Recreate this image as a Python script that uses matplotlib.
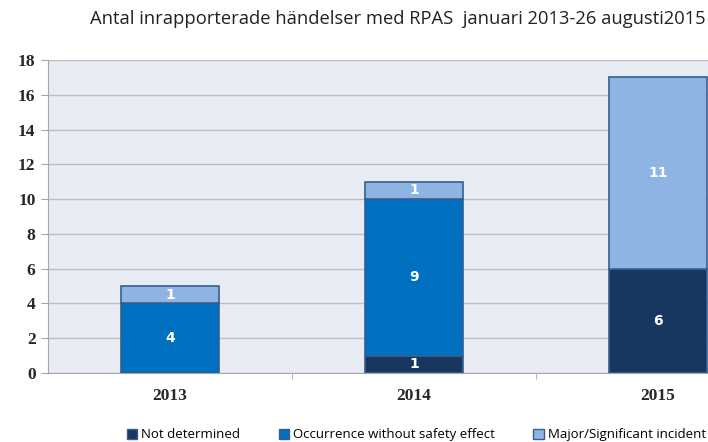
import numpy as np
import matplotlib.pyplot as plt
from matplotlib.patches import Patch

# Data
years = ['2013', '2014', '2015']
not_determined = [0, 1, 6]
occurrence = [4, 9, 0]
major = [1, 1, 11]

series = [
    ('Not determined', not_determined, '#17375E'),
    ('Occurrence without safety effect', occurrence, '#0070C0'),
    ('Major/Significant incident', major, '#8DB4E2'),
]

fig = plt.figure(figsize=(7.08, 4.42), dpi=100)
# plot area is cut off on the right in the original
ax = fig.add_axes([48 / 708, 69 / 442, 732 / 708, 313 / 442])
ax.set_facecolor('#E8ECF4')

x = np.arange(len(years))
bottom = np.zeros(len(years))
for name, vals, color in series:
    vals = np.array(vals, dtype=float)
    ax.bar(x, vals, width=0.4, bottom=bottom, color=color,
           edgecolor='#365F91', linewidth=1.2, zorder=3)
    for xi, b, v in zip(x, bottom, vals):
        if v > 0:
            ax.text(xi, b + v / 2, str(int(v)), ha='center', va='center',
                    color='white', fontsize=10, fontweight='bold',
                    family='DejaVu Sans', zorder=4)
    bottom += vals

ax.set_xlim(-0.5, 2.5)
ax.set_ylim(0, 18)
ax.set_yticks(range(0, 19, 2))
ax.yaxis.grid(True, color='#BFBFBF', linewidth=1, zorder=0)

ax.set_xticks(x)
ax.set_xticklabels(years)
ax.set_xticks([0.5, 1.5], minor=True)
ax.tick_params(axis='x', which='major', length=0, pad=11)
ax.tick_params(axis='x', which='minor', length=4, color='#A6A6A6')
ax.tick_params(axis='y', length=5, color='#A6A6A6', pad=4)
for lab in ax.get_xticklabels() + ax.get_yticklabels():
    lab.set_family('Liberation Serif')
    lab.set_fontweight('bold')
    lab.set_fontsize(12.5)
    lab.set_color('#262626')

for side in ['top', 'right']:
    ax.spines[side].set_visible(False)
ax.spines['left'].set_color('#A6A6A6')
ax.spines['bottom'].set_color('#A6A6A6')

fig.text(0.562, 0.958, 'Antal inrapporterade händelser med RPAS  januari 2013-26 augusti2015',
         ha='center', va='center', fontsize=13.2, family='Open Sans', color='#222222')

handles = [Patch(facecolor=c, edgecolor='#365F91', label=n) for n, v, c in series]
fig.legend(handles=handles, loc='center', bbox_to_anchor=(0.588, 0.016), ncol=3,
           frameon=False, handlelength=0.8, handleheight=0.8,
           handletextpad=0.3, columnspacing=2.9, prop={'family': 'Open Sans', 'size': 9.5})

fig.savefig('out.png', dpi=100)
